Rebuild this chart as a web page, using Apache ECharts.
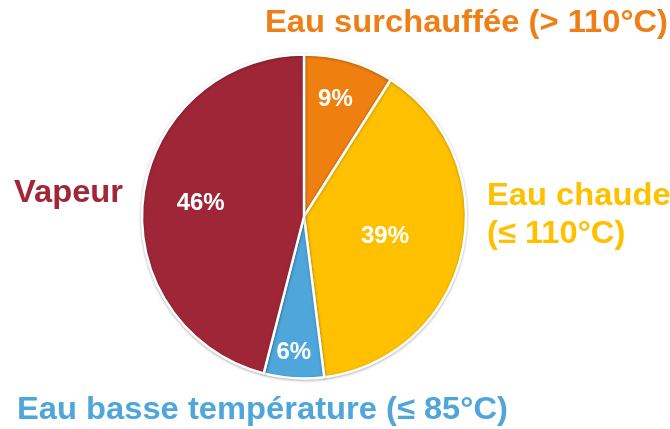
<!DOCTYPE html>
<html>
<head>
<meta charset="utf-8">
<script src="https://cdn.jsdelivr.net/npm/echarts@6/dist/echarts.min.js"></script>
<style>html,body{margin:0;padding:0;background:#fff}#c{width:670px;height:429px}</style>
</head>
<body>
<div id="c"></div>
<script>
var categories = ['Eau surchauffée (> 110°C)', 'Eau chaude\n(≤ 110°C)', 'Eau basse température (≤ 85°C)', 'Vapeur'];
var values = [9, 39, 6, 46];
var colors = ['#EF7F0E', '#FFC000', '#4EA6DB', '#9F2637'];
var textColors = ['#EE7F16', '#FFC000', '#4EA6DB', '#A12738'];

var pctOffsets = [[8, -36], [-1, 2], [-5, 52], [-20, -3]];
var namePos = [
  {x: 668, y: 23, align: 'right'},
  {x: 487, y: 215, align: 'left'},
  {x: 17, y: 410, align: 'left'},
  {x: 14, y: 193, align: 'left'}
];

var chart = echarts.init(document.getElementById('c'));
var data = values.map(function (v, i) {
  return {
    name: categories[i],
    value: v,
    itemStyle: {color: colors[i]},
    label: {offset: pctOffsets[i]}
  };
});
var graphics = categories.map(function (n, i) {
  return {
    type: 'text',
    x: namePos[i].x,
    y: namePos[i].y,
    scaleX: 1.055,
    style: {
      text: n,
      fill: textColors[i],
      font: 'bold 31px "Liberation Sans", Arial, sans-serif',
      align: namePos[i].align,
      verticalAlign: 'middle',
      lineHeight: 38
    }
  };
});
chart.setOption({
  animation: false,
  graphic: graphics,
  series: [{
    type: 'pie',
    center: [304, 216.5],
    radius: 162,
    startAngle: 90,
    clockwise: true,
    data: data,
    itemStyle: {
      borderColor: '#fff',
      borderWidth: 2.5,
      shadowColor: 'rgba(0,0,0,0.25)',
      shadowBlur: 3,
      shadowOffsetY: 1
    },
    label: {
      show: true,
      position: 'inside',
      formatter: '{c}%',
      color: '#fff',
      fontFamily: '"Liberation Sans", Arial, sans-serif',
      fontWeight: 'bold',
      fontSize: 24
    },
    labelLine: {show: false},
    emphasis: {disabled: true}
  }]
});
</script>
</body>
</html>
